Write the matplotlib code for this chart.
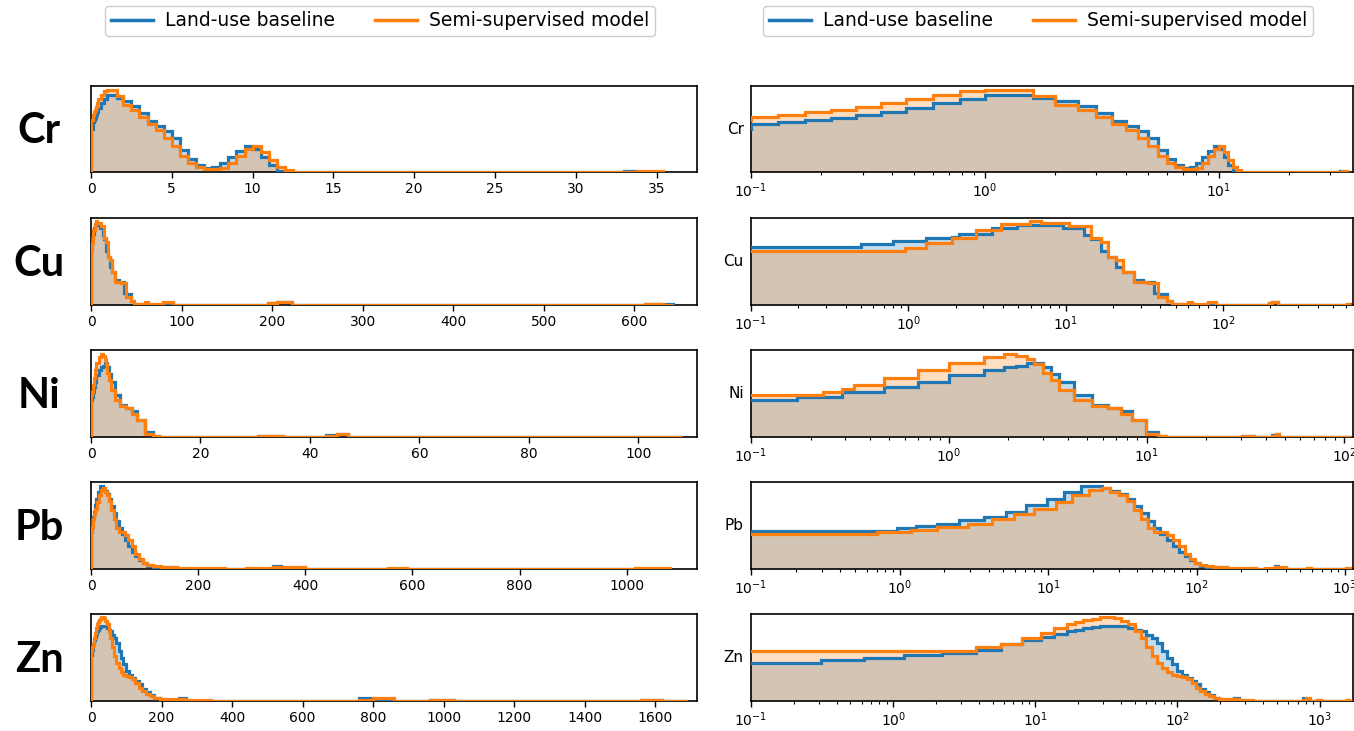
from __future__ import annotations

import matplotlib

matplotlib.use("Agg")
import matplotlib.pyplot as plt
import numpy as np
from matplotlib.lines import Line2D
from matplotlib.ticker import NullFormatter


ELEMENTS = ["Cr", "Cu", "Ni", "Pb", "Zn"]
SERIES_LABELS = ["Land-use baseline", "Semi-supervised model"]
X_MAX = [37.5, 669.0, 110.7, 1131.0, 1718.0]

# bin edges + relative heights (fraction of panel height)
CR_EDGES = [0, 0.1, 0.13, 0.17, 0.22, 0.28, 0.36, 0.46, 0.6, 0.78, 1.0, 1.3, 1.6, 2.0,
            2.5, 3.0, 3.5, 4.0, 4.5, 5.0, 5.5, 6.0, 6.5, 7.0, 7.5, 8.0, 8.5, 9.0, 9.5,
            10.0, 10.5, 11.0, 11.5, 12.0, 12.5, 13.0, 14.5, 33.0, 33.7, 35.4]
CR_BASE = [0.50, 0.555, 0.58, 0.60, 0.63, 0.66, 0.70, 0.75, 0.80, 0.85, 0.89, 0.89, 0.86,
           0.82, 0.77, 0.69, 0.59, 0.53, 0.48, 0.39, 0.26, 0.15, 0.08, 0.05, 0.06, 0.10,
           0.17, 0.25, 0.30, 0.27, 0.18, 0.08, 0.015, 0.0, 0.0, 0.0, 0.0, 0.01, 0.0]
CR_SEMI = [0.60, 0.64, 0.66, 0.70, 0.72, 0.76, 0.80, 0.85, 0.90, 0.94, 0.95, 0.95, 0.88,
           0.78, 0.72, 0.64, 0.56, 0.49, 0.40, 0.30, 0.19, 0.10, 0.06, 0.04, 0.03, 0.05,
           0.10, 0.19, 0.27, 0.30, 0.23, 0.14, 0.06, 0.02, 0.005, 0.005, 0.0, 0.0, 0.008]

CU_EDGES = [0, 0.5, 0.8, 0.95, 1.3, 1.9, 2.1, 2.7, 3.4, 3.9, 4.9, 5.9, 7.0, 9.6, 10.5, 13,
            14.5, 16.7, 18.5, 21, 23, 27, 31, 33.5, 36.5, 38.5, 44, 47, 60, 63, 80, 90,
            195, 205, 222, 612, 632, 642]
CU_BASE = [0.67, 0.70, 0.73, 0.73, 0.77, 0.78, 0.82, 0.82, 0.88, 0.89, 0.92, 0.92, 0.92,
           0.89, 0.89, 0.80, 0.76, 0.62, 0.55, 0.44, 0.38, 0.29, 0.26, 0.26, 0.14, 0.13,
           0.05, 0.01, 0.01, 0.005, 0.02, 0.0, 0.02, 0.03, 0.0, 0.008, 0.01]
CU_SEMI = [0.62, 0.62, 0.62, 0.66, 0.71, 0.77, 0.77, 0.86, 0.86, 0.93, 0.93, 0.96, 0.94,
           0.94, 0.91, 0.91, 0.77, 0.72, 0.55, 0.52, 0.38, 0.26, 0.26, 0.25, 0.25, 0.09,
           0.05, 0.015, 0.03, 0.01, 0.03, 0.003, 0.02, 0.035, 0.003, 0.015, 0.0]

NI_EDGES = [0, 0.17, 0.23, 0.29, 0.33, 0.47, 0.7, 1.0, 1.5, 1.9, 2.2, 2.5, 2.7, 3.0, 3.3,
            3.6, 4.3, 5.3, 6.4, 7.4, 8.4, 9.9, 11.4, 12.5, 30.5, 35, 43, 45, 47, 108]
NI_BASE = [0.42, 0.46, 0.46, 0.52, 0.52, 0.58, 0.63, 0.71, 0.77, 0.80, 0.82, 0.85, 0.85,
           0.81, 0.72, 0.63, 0.48, 0.37, 0.33, 0.30, 0.19, 0.06, 0.01, 0.0, 0.01, 0.0,
           0.02, 0.03, 0.0]
NI_SEMI = [0.48, 0.48, 0.52, 0.55, 0.60, 0.68, 0.77, 0.85, 0.92, 0.95, 0.93, 0.90, 0.84,
           0.74, 0.66, 0.54, 0.42, 0.36, 0.33, 0.27, 0.19, 0.04, 0.01, 0.003, 0.01, 0.003,
           0.015, 0.035, 0.003]

PB_EDGES = [0, 0.7, 0.96, 1.2, 1.3, 1.8, 2.5, 2.9, 3.7, 4.2, 5.2, 5.9, 7.1, 8.1, 9.9, 11.3,
            12.8, 14.6, 16.7, 18.8, 23, 26, 30, 34, 38, 42, 47, 52, 57, 63, 69, 76, 83, 90,
            97, 105, 115, 130, 160, 250, 290, 340, 355, 400, 555, 590, 1015, 1080]
PB_BASE = [0.44, 0.44, 0.47, 0.47, 0.50, 0.52, 0.56, 0.56, 0.60, 0.60, 0.65, 0.65, 0.73,
           0.73, 0.81, 0.81, 0.88, 0.88, 0.95, 0.95, 0.93, 0.90, 0.86, 0.80, 0.72, 0.64,
           0.55, 0.47, 0.40, 0.33, 0.26, 0.20, 0.15, 0.10, 0.07, 0.04, 0.025, 0.02, 0.005,
           0.0, 0.005, 0.03, 0.01, 0.0, 0.005, 0.0, 0.005]
PB_SEMI = [0.40, 0.42, 0.42, 0.45, 0.45, 0.48, 0.48, 0.52, 0.52, 0.57, 0.57, 0.63, 0.63,
           0.69, 0.69, 0.77, 0.77, 0.85, 0.85, 0.91, 0.93, 0.89, 0.85, 0.78, 0.68, 0.57,
           0.47, 0.43, 0.42, 0.39, 0.33, 0.26, 0.17, 0.12, 0.07, 0.05, 0.03, 0.025, 0.01,
           0.003, 0.01, 0.025, 0.02, 0.003, 0.01, 0.003, 0.01]

ZN_EDGES = [0, 0.31, 0.62, 1.2, 2.2, 3.8, 5.7, 8.0, 11, 13.5, 16.7, 19, 21.8, 25, 28.5, 32,
            36, 40, 45, 50, 55, 60, 66, 72, 78, 85, 92, 100, 108, 117, 126, 135, 145, 156,
            168, 180, 195, 210, 230, 250, 270, 340, 760, 800, 860, 960, 1030, 1560, 1620,
            1690]
ZN_BASE = [0.44, 0.47, 0.50, 0.53, 0.55, 0.59, 0.65, 0.70, 0.74, 0.77, 0.80, 0.82, 0.84,
           0.85, 0.86, 0.86, 0.86, 0.86, 0.84, 0.82, 0.80, 0.76, 0.72, 0.67, 0.58, 0.50,
           0.42, 0.35, 0.30, 0.27, 0.23, 0.19, 0.14, 0.10, 0.07, 0.04, 0.02, 0.01, 0.01,
           0.03, 0.005, 0.0, 0.03, 0.01, 0.0, 0.01, 0.0, 0.01, 0.0]
ZN_SEMI = [0.57, 0.57, 0.57, 0.57, 0.57, 0.62, 0.66, 0.72, 0.78, 0.84, 0.89, 0.91, 0.93,
           0.94, 0.96, 0.96, 0.95, 0.92, 0.88, 0.80, 0.72, 0.62, 0.52, 0.44, 0.38, 0.33,
           0.30, 0.29, 0.28, 0.25, 0.21, 0.15, 0.11, 0.08, 0.06, 0.04, 0.025, 0.02, 0.02,
           0.02, 0.015, 0.003, 0.01, 0.03, 0.003, 0.01, 0.003, 0.01, 0.005]

DATA = {
    "Cr": (CR_EDGES, CR_BASE, CR_SEMI),
    "Cu": (CU_EDGES, CU_BASE, CU_SEMI),
    "Ni": (NI_EDGES, NI_BASE, NI_SEMI),
    "Pb": (PB_EDGES, PB_BASE, PB_SEMI),
    "Zn": (ZN_EDGES, ZN_BASE, ZN_SEMI),
}

COLORS = ["#1F77B4", "#FF7F0E"]

FIG_W, FIG_H = 1354, 731
LEFT_COL = (91, 606)
RIGHT_COL = (751, 602)
ROWS = [(86, 172), (218, 305), (350, 437), (482, 569), (614, 701)]


def px_rect(x0: float, w: float, top: float, bottom: float) -> list[float]:
    return [x0 / FIG_W, 1 - bottom / FIG_H, w / FIG_W, (bottom - top) / FIG_H]


def draw_hist(ax: plt.Axes, edges: np.ndarray, base, semi) -> None:
    for values, color in zip((base, semi), COLORS):
        ax.stairs(values, edges, fill=True, color=color, alpha=0.25, linewidth=0)
    for values, color in zip((base, semi), COLORS):
        ax.stairs(values, edges, color=color, linewidth=2.3, zorder=3)


def style_axes(ax: plt.Axes) -> None:
    ax.set_yticks([])
    ax.set_ylim(0, 1)
    for spine in ax.spines.values():
        spine.set_linewidth(1.2)
    ax.tick_params(axis="x", labelsize=10, length=4, width=1.0, pad=3)
    ax.tick_params(axis="x", which="minor", length=2.5, width=0.8)


def main() -> None:
    fig = plt.figure(figsize=(FIG_W / 100, FIG_H / 100), dpi=100)

    for el, xmax, (top, bottom) in zip(ELEMENTS, X_MAX, ROWS):
        edges, base, semi = DATA[el]
        edges = np.asarray(edges, dtype=float)

        ax_lin = fig.add_axes(px_rect(*LEFT_COL, top, bottom))
        draw_hist(ax_lin, edges, base, semi)
        ax_lin.set_xlim(0, xmax)
        style_axes(ax_lin)

        ax_log = fig.add_axes(px_rect(*RIGHT_COL, top, bottom))
        log_edges = np.where(edges > 0, edges, 1e-3)
        draw_hist(ax_log, log_edges, base, semi)
        ax_log.set_xscale("log")
        ax_log.set_xlim(0.1, xmax)
        ax_log.xaxis.set_minor_formatter(NullFormatter())
        style_axes(ax_log)
        ax_log.text(-0.012, 0.5, el, transform=ax_log.transAxes, ha="right",
                    va="center", fontsize=11)

        fig.text(39 / FIG_W, 1 - (top + bottom + 4) / 2 / FIG_H, el, ha="center",
                 va="center", fontsize=30, fontweight="bold", family=["Lato", "DejaVu Sans"])

    handles = [Line2D([], [], color=c, linewidth=2.5) for c in COLORS]
    for xc in (380 / FIG_W, 1038 / FIG_W):
        fig.legend(handles, SERIES_LABELS, loc="center", bbox_to_anchor=(xc, 1 - 21 / FIG_H),
                   ncol=2, fontsize=13.5, handlelength=2.25, handletextpad=0.65,
                   columnspacing=2.1, borderpad=0.3, edgecolor="#CCCCCC", framealpha=1.0)

    fig.savefig("out.png", dpi=100)
    plt.close(fig)


if __name__ == "__main__":
    main()
